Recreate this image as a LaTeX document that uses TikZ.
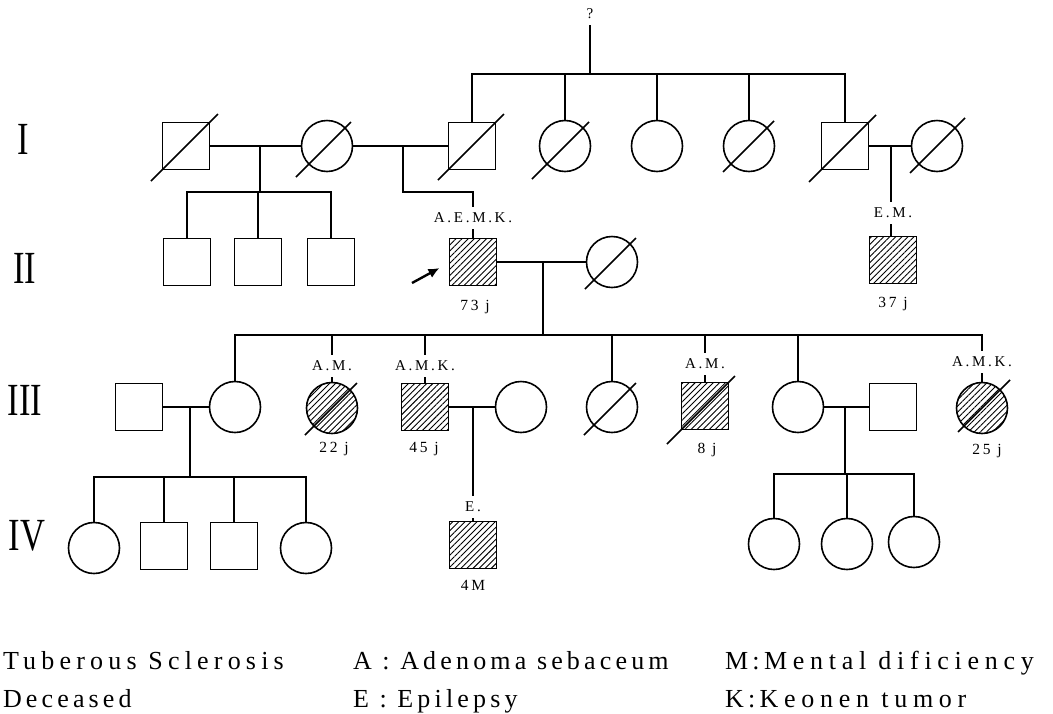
\documentclass[tikz,border=0pt]{standalone}
\usepackage{fontspec}
\setmainfont{Liberation Serif}
\newfontfamily\lbl[LetterSpace=18]{Liberation Serif}
\newfontfamily\lgA[LetterSpace=20]{Liberation Serif}
\newfontfamily\lgB[LetterSpace=16]{Liberation Serif}
\newfontfamily\lgC[LetterSpace=22]{Liberation Serif}
\usetikzlibrary{patterns.meta,arrows.meta}
\tikzset{
  every node/.style={inner sep=0pt, outer sep=0pt},
  ln/.style={line width=1.6pt},
  male/.style={draw, line width=1.6pt, rectangle, minimum size=47pt},
  female/.style={draw, line width=1.6pt, circle, minimum size=51pt},
  aff/.style={pattern={Lines[angle=45,distance=4.3pt,line width=0.9pt]}},
  slash/.style={line width=1.5pt},
  lab/.style={font=\lbl\fontsize{15}{16}\selectfont, inner ysep=6pt},
  age/.style={font=\lbl\fontsize{15.5}{16}\selectfont, anchor=base},
  legend/.style={font=\fontsize{26}{28}\selectfont, anchor=base west},
  roman/.style={font=\fontsize{46}{50}\selectfont}
}
\begin{document}
\begin{tikzpicture}[x=1pt,y=-1pt]
\path[fill=white] (0,0) rectangle (1053,713);
\useasboundingbox (0,0) rectangle (1053,713);

% generation numerals
\node[roman] (gI) at (23,139) {\scalebox{0.75}[1]{I}};
\node[roman] (gII) at (25,268) {\scalebox{0.75}[1]{II}};
\node[roman] (gIII) at (25,400) {\scalebox{0.75}[1]{III}};
\node[roman] (gIV) at (27,536) {\scalebox{0.75}[1]{IV}};

% Generation I
\node[male]   (I1) at (186,146) {};
\node[female] (I2) at (327,146) {};
\node[male]   (I3) at (472,146) {};
\node[female] (I4) at (565,146) {};
\node[female] (I5) at (657,146) {};
\node[female] (I6) at (749,146) {};
\node[male]   (I7) at (845,146) {};
\node[female] (I8) at (937,146) {};

% Generation II
\node[male] (II1) at (187,262) {};
\node[male] (II2) at (258,262) {};
\node[male] (II3) at (331,262) {};
\node[male,aff] (II4) at (473,262) {};
\node[female] (II5) at (612,262) {};
\node[male,aff] (II6) at (893,260) {};

% Generation III
\node[male] (III1) at (139,407) {};
\node[female] (III2) at (235,407) {};
\node[female,aff] (III3) at (332,408) {};
\node[male,aff] (III4) at (425,407) {};
\node[female] (III5) at (521,407) {};
\node[female] (III6) at (612,407) {};
\node[male,aff] (III7) at (705,406) {};
\node[female] (III8) at (798,407) {};
\node[male] (III9) at (893,407) {};
\node[female,aff] (III10) at (982,408) {};

% Generation IV
\node[female] (IV1) at (94,548) {};
\node[male] (IV2) at (164,546) {};
\node[male] (IV3) at (234,546) {};
\node[female] (IV4) at (306,548) {};
\node[male,aff] (IV5) at (473,545) {};
\node[female] (IV6) at (774,544) {};
\node[female] (IV7) at (847,544) {};
\node[female] (IV8) at (914,542) {};

% labels
\node[lab] (q) at (590,14) {?};
\node[lab] (LII4) at (473,218) {A.E.M.K.};
\node[lab] (LII6) at (893,213) {E.M.};
\node[lab] (LIII3) at (332,366) {A.M.};
\node[lab] (LIII4) at (425,366) {A.M.K.};
\node[lab] (LIII7) at (705,364) {A.M.};
\node[lab] (LIII10) at (982,362) {A.M.K.};
\node[lab] (LIV5) at (473,507) {E.};
\node[age] (aII4) at (475,310) {73 j};
\node[age] (aII6) at (893,307) {37 j};
\node[age] (aIII3) at (334,452) {22 j};
\node[age] (aIII4) at (424,452) {45 j};
\node[age] (aIII7) at (707,453) {8 j};
\node[age] (aIII10) at (987,454) {25 j};
\node[age] (aIV5) at (473,590) {4M};

% deceased slashes
\foreach \n/\a/\b in {I1/35/32, I3/34/32, I7/36/31, III7/38/30}
  \draw[slash] ([shift={(-\a,\a)}]\n.center) -- ([shift={(\b,-\b)}]\n.center);
\foreach \n/\a/\b in {I2/31/24, I4/33/24, I6/26/25, I8/27/28, II5/27/24, III6/28/24, III3/27/25, III10/24/28}
  \draw[slash] ([shift={(-\a,\a)}]\n.center) -- ([shift={(\b,-\b)}]\n.center);

% junction coordinates
\coordinate (top) at (590,74);
\coordinate (m1) at (260,146);
\coordinate (s1) at (260,192);
\coordinate (m2) at (403,146);
\coordinate (c2) at (473,192);
\coordinate (m3) at (891,146);
\coordinate (m4) at (543,262);
\coordinate (s3) at (543,335);
\coordinate (m5) at (190,407);
\coordinate (s5) at (190,477);
\coordinate (m6) at (473,407);
\coordinate (m7) at (845,407);
\coordinate (s7) at (845,474);

% generation I connectors
\draw[ln] (q.south) -- (top);
\draw[ln] (I3.north) -- (I3.north |- top) -- (I7.north |- top) -- (I7.north);
\foreach \n in {I4,I5,I6} \draw[ln] (\n.north) -- (\n.north |- top);
\draw[ln] (I1.east) -- (I2.west);
\draw[ln] (I2.east) -- (I3.west);
\draw[ln] (I7.east) -- (I8.west);
\draw[ln] (m1) -- (s1);
\draw[ln] (II1.north) -- (II1.north |- s1) -- (II3.north |- s1) -- (II3.north);
\draw[ln] (II2.north) -- (II2.north |- s1);
\draw[ln] (m2) |- (c2) -- (LII4.north);
\draw[ln] (LII4.south) -- (II4.north);
\draw[ln] (m3) -- (m3 |- LII6.north);
\draw[ln] (LII6.south -| m3) -- (m3 |- II6.north);

% generation II connectors
\draw[ln] (II4.east) -- (II5.west);
\draw[ln] (m4) -- (s3);
\draw[ln] (III2.north) -- (III2.north |- s3) -- (LIII10.north |- s3) -- (LIII10.north);
\draw[ln] (LIII10.south) -- (III10.north);
\foreach \n in {LIII3,LIII4,LIII7} \draw[ln] (\n.north) -- (\n.north |- s3);
\draw[ln] (LIII3.south) -- (III3.north);
\draw[ln] (LIII4.south) -- (III4.north);
\draw[ln] (LIII7.south) -- (III7.north);
\foreach \n in {III6,III8} \draw[ln] (\n.north) -- (\n.north |- s3);

% generation III connectors
\draw[ln] (III1.east) -- (III2.west);
\draw[ln] (m5) -- (s5);
\draw[ln] (IV1.north) -- (IV1.north |- s5) -- (IV4.north |- s5) -- (IV4.north);
\foreach \n in {IV2,IV3} \draw[ln] (\n.north) -- (\n.north |- s5);
\draw[ln] (III4.east) -- (III5.west);
\draw[ln] (m6) -- (LIV5.north);
\draw[ln] (LIV5.south) -- (IV5.north);
\draw[ln] (III8.east) -- (III9.west);
\draw[ln] (m7) -- (s7);
\draw[ln] (IV6.north) -- (IV6.north |- s7) -- (IV8.north |- s7) -- (IV8.north);
\draw[ln] (IV7.north) -- (IV7.north |- s7);

% proband arrow
\coordinate (arr) at (412,283);
\draw[line width=2.4pt, -{Latex[length=11pt,width=10pt]}] (arr) -- ([shift={(-10,6)}]II4.west);

% legend
\node[legend] (lg1) at (3,669) {\lgA Tuberous Sclerosis};
\node[legend] (lg2) at (3,707) {\lgB Deceased};
\node[legend] (lg3) at (353,669) {\lgB A : Adenoma sebaceum};
\node[legend] (lg4) at (353,707) {\lgB E : Epilepsy};
\node[legend] (lg5) at (725,669) {\lgC M\,:\,Mental dificiency};
\node[legend] (lg6) at (725,707) {\lgC K\,:\,Keonen tumor};
\end{tikzpicture}
\end{document}
